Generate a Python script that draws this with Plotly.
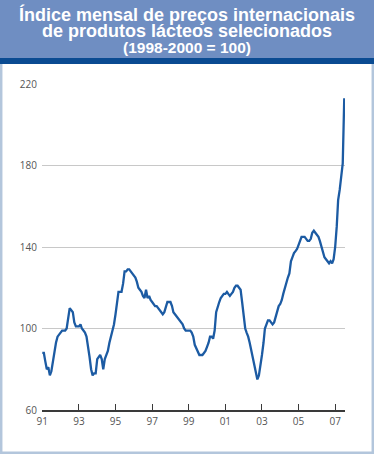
import pandas as pd
import plotly.graph_objects as go

# Monthly index values (1998-2000 = 100), Jan 1991 .. Jul 2007
v1991 = [88, 88, 84, 80, 81, 77, 79, 84, 88, 93, 96, 97]
v1992 = [98, 99, 99, 99, 100, 106, 110, 109, 108, 103, 101, 101]
v1993 = [101, 102, 100, 99, 98, 96, 92, 86, 80, 77, 78, 78]
v1994 = [85, 86, 87, 85, 80, 85, 87, 89, 93, 96, 99, 102]
v1995 = [107, 114, 118, 118, 118, 122, 128, 128, 129, 129, 128, 127]
v1996 = [126, 125, 123, 120, 119, 118, 116, 115, 119, 115, 116, 114]
v1997 = [113, 112, 111, 111, 110, 109, 108, 107, 108, 111, 113, 113]
v1998 = [113, 111, 108, 107, 106, 105, 104, 103, 102, 100, 99, 99]
v1999 = [99, 99, 98, 96, 92, 90, 88, 87, 87, 87, 88, 89]
v2000 = [91, 93, 96, 96, 95, 99, 108, 111, 113, 115, 116, 117]
v2001 = [117, 118, 117, 116, 117, 118, 120, 121, 121, 120, 119, 113]
v2002 = [106, 100, 98, 96, 93, 89, 85, 81, 78, 75, 77, 81]
v2003 = [87, 93, 100, 102, 104, 104, 103, 102, 103, 106, 108, 111]
v2004 = [112, 114, 117, 120, 123, 125, 127, 133, 135, 137, 138, 139]
v2005 = [141, 143, 145, 145, 145, 144, 143, 143, 144, 147, 148, 147]
v2006 = [146, 145, 143, 140, 138, 135, 134, 133, 132, 133, 132, 134]
v2007 = [140, 150, 163, 168, 175, 181, 213]

values = (v1991 + v1992 + v1993 + v1994 + v1995 + v1996 + v1997 + v1998 +
          v1999 + v2000 + v2001 + v2002 + v2003 + v2004 + v2005 + v2006 + v2007)
months = pd.date_range("1991-01-01", periods=len(values), freq="MS")

title_lines = ["Índice mensal de preços internacionais",
               "de produtos lácteos selecionados",
               "(1998-2000 = 100)"]
y_ticks = [60, 100, 140, 180, 220]
x_tick_years = list(range(1991, 2008, 2))

W, H = 374, 454
ML, MR, MT, MB = 42, 29, 84, 44
PW, PH = W - ML - MR, H - MT - MB


def px(x):
    return (x - ML) / PW


def py(y):
    return (H - MB - y) / PH


fig = go.Figure()
fig.add_trace(go.Scatter(
    x=months, y=values, mode="lines",
    line=dict(color="#1C5BA3", width=2.3),
    cliponaxis=False, hoverinfo="skip", showlegend=False,
))

shapes = [
    # outer frame
    dict(type="rect", xref="paper", yref="paper",
         x0=px(1.2), x1=px(W - 1.2), y0=py(H - 1.2), y1=py(1),
         line=dict(color="#B3C6DC", width=2.5), fillcolor="rgba(0,0,0,0)", layer="below"),
    # title banner
    dict(type="rect", xref="paper", yref="paper",
         x0=px(0), x1=px(W), y0=py(58), y1=py(0),
         line=dict(width=0), fillcolor="#6F8EC2", layer="below"),
    dict(type="rect", xref="paper", yref="paper",
         x0=px(0), x1=px(W), y0=py(64), y1=py(58),
         line=dict(width=0), fillcolor="#0A4B92", layer="below"),
]

annotations = []
title_y = [14.5, 31, 47.5]
title_sizes = [18, 18, 15.5]
for t, yy, fs in zip(title_lines, title_y, title_sizes):
    annotations.append(dict(
        text=t, xref="paper", yref="paper", x=px(187), y=py(yy),
        xanchor="center", yanchor="middle", showarrow=False,
        font=dict(family="Liberation Sans, Arial, sans-serif", size=fs, color="white", weight="bold"),
    ))

fig.update_layout(
    width=W, height=H,
    margin=dict(l=ML, r=MR, t=MT, b=MB, pad=0),
    paper_bgcolor="white", plot_bgcolor="white",
    shapes=shapes, annotations=annotations,
    xaxis=dict(
        type="date",
        range=["1990-12-26", "2007-07-16"],
        tickvals=[f"{y}-01-01" for y in x_tick_years],
        ticktext=[f"{y % 100:02d}" for y in x_tick_years],
        ticks="inside", ticklen=6, tickwidth=1, tickcolor="#3a3a3a",
        showline=True, linecolor="#3a3a3a", linewidth=2,
        showgrid=False, zeroline=False,
        tickfont=dict(family="Open Sans, Liberation Sans, sans-serif", size=10, color="#555555"),
        ticklabelstandoff=1,
    ),
    yaxis=dict(
        range=[60, 220],
        tickvals=y_ticks, ticktext=[str(v) for v in y_ticks],
        showgrid=True, gridcolor="#C8C8C8", gridwidth=1,
        showline=False, zeroline=False, ticks="",
        tickfont=dict(family="Open Sans, Liberation Sans, sans-serif", size=10, color="#555555"),
        ticklabelstandoff=4,
    ),
)

fig.write_html(
    "out.html",
    config={"displayModeBar": False},
    post_script="document.body.style.margin='0';document.body.style.padding='0';",
)
